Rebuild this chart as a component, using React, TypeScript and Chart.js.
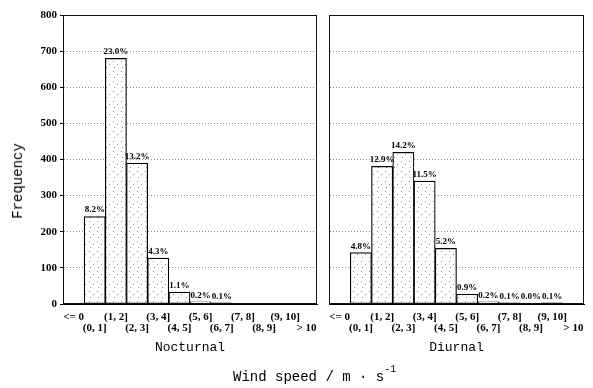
import React, { useEffect, useRef } from "react";
import { Chart, registerables } from "chart.js";

Chart.register(...registerables);

// Wind-speed classes (m/s) shared by both panels
const categories = [
  "<= 0", "(0, 1]", "(1, 2]", "(2, 3]", "(3, 4]", "(4, 5]",
  "(5, 6]", "(6, 7]", "(7, 8]", "(8, 9]", "(9, 10]", "> 10",
];

// Frequency of each class
const nocturnal = [0, 242, 680, 390, 127, 33, 6, 3, 0, 0, 0, 0];
const diurnal = [0, 142, 381, 420, 340, 154, 27, 6, 3, 1, 3, 0];

const yTicks = [0, 100, 200, 300, 400, 500, 600, 700, 800];

// Percentages are taken over all observations (day + night)
const grandTotal = [...nocturnal, ...diurnal].reduce((a, b) => a + b, 0);

const TICK_FONT = { family: "'Liberation Serif', serif", size: 11, weight: "bold" as const, lineHeight: 1 };
const MONO = "'Liberation Mono', monospace";

function makeStipple(): CanvasPattern | string {
  const c = document.createElement("canvas");
  c.width = 8;
  c.height = 10;
  const g = c.getContext("2d");
  if (!g) return "#fff";
  g.fillStyle = "#ffffff";
  g.fillRect(0, 0, 8, 10);
  g.fillStyle = "#8a8a8a";
  [[1, 1], [5, 4], [2, 7]].forEach(([x, y]) => g.fillRect(x, y, 1, 1));
  return g.createPattern(c, "repeat") || "#fff";
}

// Black frame around the plotting area
const framePlugin = {
  id: "frame",
  afterDraw(chart: Chart) {
    const { ctx, chartArea } = chart;
    ctx.save();
    ctx.strokeStyle = "#111";
    ctx.lineWidth = 1;
    ctx.setLineDash([]);
    ctx.strokeRect(
      Math.round(chartArea.left) + 0.5,
      Math.round(chartArea.top) + 0.5,
      Math.round(chartArea.right - chartArea.left) - 1,
      Math.round(chartArea.bottom - chartArea.top) - 1
    );
    ctx.restore();
  },
};

// Share-of-total labels above the bars
const percentPlugin = {
  id: "percentLabels",
  afterDatasetsDraw(chart: Chart) {
    const { ctx } = chart;
    const meta = chart.getDatasetMeta(0);
    const values = chart.data.datasets[0].data as number[];
    ctx.save();
    ctx.font = "bold 9px 'Liberation Serif', serif";
    ctx.fillStyle = "#000";
    ctx.textAlign = "center";
    ctx.textBaseline = "bottom";
    meta.data.forEach((bar: any, i: number) => {
      const v = values[i];
      if (!v) return;
      const txt = ((v / grandTotal) * 100).toFixed(1) + "%";
      ctx.fillText(txt, bar.x, bar.y - 2);
    });
    ctx.restore();
  },
};

function buildConfig(values: number[], title: string, showY: boolean, rightPad: number): any {
  return {
    type: "bar",
    data: {
      labels: categories,
      datasets: [
        {
          data: values,
          backgroundColor: makeStipple(),
          borderColor: "#000",
          borderWidth: 1.2,
          borderSkipped: false,
          barPercentage: 1,
          categoryPercentage: 1,
        },
      ],
    },
    options: {
      responsive: false,
      animation: false,
      devicePixelRatio: 1,
      layout: { padding: { top: 15, right: rightPad, bottom: 0, left: 0 } },
      plugins: { legend: { display: false }, tooltip: { enabled: false } },
      scales: {
        x: {
          offset: true,
          grid: { display: false, drawTicks: false },
          border: { display: true, color: "#000" },
          ticks: {
            autoSkip: false,
            maxRotation: 0,
            minRotation: 0,
            padding: 8,
            color: "#000",
            font: TICK_FONT,
            callback: (_v: any, i: number) => (i % 2 === 0 ? categories[i] : ["", categories[i]]),
          },
          title: {
            display: true,
            text: title,
            color: "#000",
            font: { family: MONO, size: 13, lineHeight: 1.2 },
            padding: { top: 0, bottom: 33 },
          },
          afterFit: (s: any) => {
            s.height = 84;
          },
        },
        y: {
          min: 0,
          max: 800,
          afterBuildTicks: (s: any) => {
            s.ticks = yTicks.map((v) => ({ value: v }));
          },
          grid: {
            color: "#8c8c8c",
            drawTicks: showY,
            tickLength: 3,
            tickColor: "#000",
            tickBorderDash: [],
          },
          border: { display: true, color: "#000", dash: [1, 2] },
          ticks: {
            display: showY,
            padding: 3,
            color: "#000",
            font: TICK_FONT,
          },
          afterFit: (s: any) => {
            s.width = showY ? 63 : 9;
          },
        },
      },
    },
    plugins: [framePlugin, percentPlugin],
  };
}

function Panel(props: { values: number[]; title: string; showY: boolean; left: number; width: number; rightPad: number }) {
  const ref = useRef<HTMLCanvasElement | null>(null);
  useEffect(() => {
    if (!ref.current) return;
    const chart = new Chart(ref.current, buildConfig(props.values, props.title, props.showY, props.rightPad));
    return () => chart.destroy();
  }, []);
  return (
    <canvas
      ref={ref}
      width={props.width}
      height={388}
      style={{ position: "absolute", left: props.left, top: 0, width: props.width, height: 388 }}
    />
  );
}

export default function App() {
  return (
    <div style={{ position: "absolute", left: 0, top: 0, width: 593, height: 388, background: "#fff", overflow: "hidden" }}>
      <Panel values={nocturnal} title="Nocturnal" showY={true} left={0} width={328} rightPad={11} />
      <Panel values={diurnal} title="Diurnal" showY={false} left={320} width={273} rightPad={9} />
      <div
        style={{
          position: "absolute",
          left: 18,
          top: 181,
          transform: "translate(-50%, -50%) rotate(-90deg)",
          fontFamily: MONO,
          fontSize: 14,
          lineHeight: "16px",
          whiteSpace: "nowrap",
          color: "#000",
        }}
      >
        Frequency
      </div>
      <div
        style={{
          position: "absolute",
          left: 233,
          top: 369,
          fontFamily: MONO,
          fontSize: 14,
          lineHeight: "16px",
          whiteSpace: "nowrap",
          color: "#000",
        }}
      >
        Wind speed / m · s
        <span style={{ fontSize: 10, position: "relative", top: -9 }}>-1</span>
      </div>
    </div>
  );
}
